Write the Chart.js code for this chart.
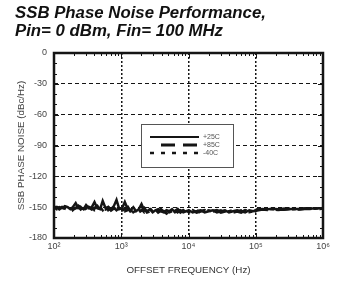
<!DOCTYPE html>
<html lang="en">
<head>
<meta charset="UTF-8">
<title>SSB Phase Noise</title>
<script src="https://cdn.jsdelivr.net/npm/chart.js"></script>
<style>
  body { margin: 0; background: #fff; }
  #wrap { position: relative; width: 340px; height: 282px; }
  #title { position: absolute; left: 15px; top: 4px; font: italic bold 16.8px "Liberation Sans", Arial, sans-serif; line-height: 18px; color: #111; }
  canvas { position: absolute; left: 0; top: 0; }
</style>
</head>
<body>
<div id="wrap">
  <canvas id="chart" width="340" height="282"></canvas>
  <div id="title">SSB Phase Noise Performance,<br>Pin= 0 dBm, Fin= 100 MHz</div>
</div>
<script>
// offset frequency (Hz)
const freqs = [100,110,120,132,145,160,175,190,210,230,250,275,300,330,365,400,440,485,530,585,640,705,775,850,935,
  1030,1130,1250,1370,1510,1660,1820,2000,2200,2420,2660,2930,3220,3540,3900,4290,4710,5180,5700,6270,6900,7590,8350,9180,
  10100,11500,13200,15100,17400,20000,23000,26400,30300,34800,40000,46000,52800,60600,69600,80000,91900,
  105000,125000,150000,180000,215000,260000,310000,370000,445000,530000,635000,760000,900000,1000000];

// phase noise (dBc/Hz)
const noise25 = [-149,-151,-150,-151,-149,-150,-152,-150,-146,-151,-150,-152,-148,-151,-150,-145,-151,-152,-144,-151,-150,-152,-149,-143,-152,
  -151,-145,-152,-153,-150,-154,-152,-147,-153,-154,-152,-155,-153,-152,-154,-155,-153,-154,-152,-155,-154,-153,-155,-154,
  -153,-155,-154,-153,-155,-154,-153,-155,-154,-153,-155,-154,-153,-154,-155,-153,-154,
  -152,-152.5,-152,-151.5,-152,-152.5,-152,-151.5,-152,-151.5,-151,-151.5,-151,-151];
const noise85 = [-151,-150,-152,-150,-151,-153,-150,-152,-151,-149,-152,-150,-153,-150,-152,-151,-149,-153,-151,-152,-150,-153,-151,-152,-150,
  -153,-152,-150,-154,-153,-152,-155,-153,-151,-155,-154,-153,-152,-155,-153,-154,-156,-153,-155,-154,-152,-155,-153,-155,
  -154,-153,-155,-154,-153,-155,-154,-153,-155,-154,-153,-155,-154,-155,-153,-154,-155,
  -153,-152,-152.5,-152,-152.5,-152,-151.5,-152,-152,-151.5,-151.5,-151,-151.5,-151];
const noiseM40 = [-150,-152,-151,-153,-150,-151,-149,-153,-150,-152,-148,-153,-151,-152,-149,-153,-152,-150,-153,-149,-153,-151,-150,-153,-151,
  -152,-154,-153,-151,-155,-153,-154,-152,-155,-153,-151,-154,-155,-153,-152,-154,-153,-155,-154,-152,-155,-153,-154,-153,
  -155,-154,-153,-155,-154,-153,-155,-154,-153,-155,-154,-153,-155,-153,-154,-155,-154,
  -152.5,-152,-151.5,-152,-152,-151.5,-152,-152,-151.5,-151.5,-151,-151,-151,-151.5];

const seriesLabels = ['+25C', '+85C', '-40C'];
const xTickValues = [100, 1000, 10000, 100000, 1000000];
const xTickLabels = ['10\u00B2', '10\u00B3', '10\u2074', '10\u2075', '10\u2076'];
const yTicks = [0, -30, -60, -90, -120, -150, -180];

const ink = '#151515';
const font = '"Liberation Sans", Arial, sans-serif';
function pts(vals) { return vals.map((v, i) => ({ x: freqs[i], y: v })); }

// frame, minor ticks and the boxed legend
const framePlugin = {
  id: 'frame',
  afterDatasetsDraw(chart) {
    const { ctx, chartArea: a, scales: { x, y } } = chart;
    ctx.save();
    ctx.strokeStyle = ink;
    ctx.lineWidth = 1;
    ctx.beginPath();
    for (let d = 100; d < 1000000; d *= 10) {
      for (let m = 1; m < 10; m++) {
        const px = Math.round(x.getPixelForValue(m * d)) + 0.5;
        const len = m === 1 ? 5 : 3;
        ctx.moveTo(px, a.bottom); ctx.lineTo(px, a.bottom - len);
        ctx.moveTo(px, a.top); ctx.lineTo(px, a.top + len);
      }
    }
    for (let v = -170; v < 0; v += 10) {
      const py = Math.round(y.getPixelForValue(v)) + 0.5;
      const len = v % 30 === 0 ? 5 : 3;
      ctx.moveTo(a.left, py); ctx.lineTo(a.left + len, py);
      ctx.moveTo(a.right, py); ctx.lineTo(a.right - len, py);
    }
    ctx.stroke();
    ctx.lineWidth = 2.5;
    ctx.strokeRect(a.left, a.top, a.right - a.left, a.bottom - a.top);

    // legend box
    const bx = a.left + 87, by = a.top + 71, bw = 92, bh = 43;
    ctx.fillStyle = '#fff';
    ctx.fillRect(bx, by, bw, bh);
    ctx.lineWidth = 1;
    ctx.strokeStyle = '#555';
    ctx.strokeRect(bx + 0.5, by + 0.5, bw, bh);
    const rows = [13, 21, 29];
    const widths = [2, 3, 2.5];
    chart.data.datasets.forEach((ds, i) => {
      ctx.strokeStyle = ds.borderColor;
      ctx.lineWidth = widths[i];
      ctx.setLineDash(ds.borderDash || []);
      ctx.beginPath();
      ctx.moveTo(bx + (i === 1 ? 20 : 9), by + rows[i]);
      ctx.lineTo(bx + 58, by + rows[i]);
      ctx.stroke();
      ctx.setLineDash([]);
      ctx.fillStyle = '#555';
      ctx.font = '7px ' + font;
      ctx.textBaseline = 'middle';
      ctx.fillText(ds.label, bx + 62, by + rows[i]);
    });
    ctx.restore();
  }
};

new Chart(document.getElementById('chart'), {
  type: 'line',
  data: {
    datasets: [
      { label: seriesLabels[0], data: pts(noise25), borderColor: ink, borderWidth: 2.5, pointRadius: 0 },
      { label: seriesLabels[1], data: pts(noise85), borderColor: ink, borderWidth: 3, borderDash: [14, 8], pointRadius: 0 },
      { label: seriesLabels[2], data: pts(noiseM40), borderColor: ink, borderWidth: 2.5, borderDash: [4, 7], pointRadius: 0 }
    ]
  },
  options: {
    responsive: false,
    animation: false,
    devicePixelRatio: 1,
    layout: { padding: { top: 53, right: 17, left: 0, bottom: 0 } },
    plugins: { legend: { display: false }, tooltip: { enabled: false } },
    scales: {
      x: {
        type: 'logarithmic',
        min: 100, max: 1000000,
        afterBuildTicks: s => { s.ticks = xTickValues.map(v => ({ value: v })); },
        afterFit: s => { s.height = 44; },
        ticks: {
          autoSkip: false, maxRotation: 0, padding: 3,
          color: '#444', font: { family: font, size: 9 },
          callback: (v, i) => xTickLabels[i]
        },
        grid: {
          drawTicks: false, lineWidth: 1.5,
          color: c => (c.index === 0 || c.index === xTickValues.length - 1) ? 'rgba(0,0,0,0)' : ink
        },
        border: { display: false, dash: [2, 2] },
        title: {
          display: true, text: 'OFFSET FREQUENCY (Hz)', color: '#333',
          font: { family: font, size: 9.8 },
          padding: { top: 0, bottom: 6 }
        }
      },
      y: {
        min: -180, max: 0,
        afterBuildTicks: s => { s.ticks = yTicks.map(v => ({ value: v })); },
        afterFit: s => { s.width = 54; },
        ticks: {
          padding: 7, color: '#444',
          font: { family: font, size: 9 }
        },
        grid: {
          drawTicks: false, lineWidth: 1,
          color: c => (c.tick.value === 0 || c.tick.value === -180) ? 'rgba(0,0,0,0)' : ink
        },
        border: { display: false, dash: [4, 3] },
        title: {
          display: true, text: 'SSB PHASE NOISE (dBc/Hz)', color: '#444',
          font: { family: font, size: 9.8 },
          padding: { top: 15, bottom: 0 }
        }
      }
    }
  },
  plugins: [framePlugin]
});
</script>
</body>
</html>
